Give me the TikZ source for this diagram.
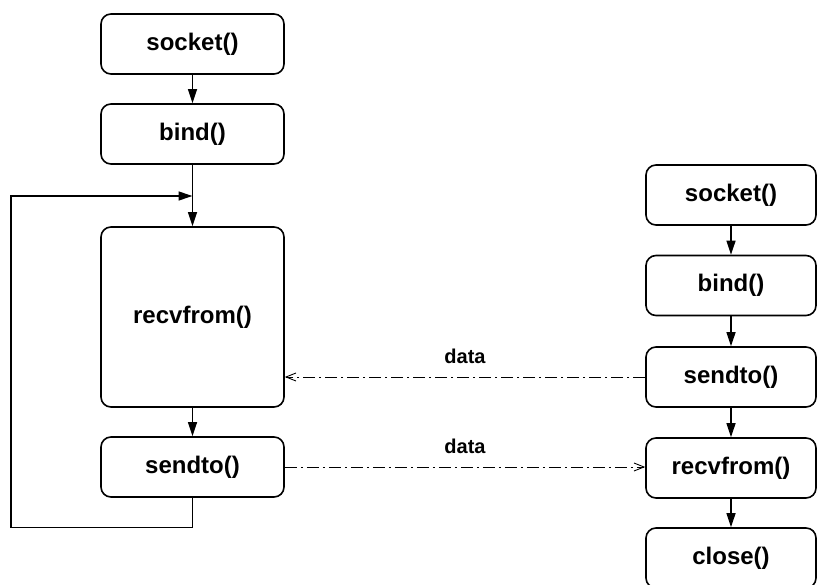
\documentclass[tikz,border=0pt]{standalone}
\usepackage{fontspec}
\setmainfont{Liberation Sans}
\usetikzlibrary{arrows.meta}

\tikzset{
  call/.style={draw, line width=1.6pt, rounded corners=10pt, minimum width=183pt,
    minimum height=60pt, font=\fontsize{24}{28}\selectfont\bfseries},
  rcall/.style={call, minimum width=170pt},
  flow/.style={line width=1.3pt, -{Triangle[length=14pt,width=9pt]}},
  msg/.style={line width=0.9pt, dash pattern=on 12pt off 4pt on 2pt off 4pt,
    -{Straight Barb[length=10pt,width=8pt]}},
  msglabel/.style={font=\fontsize{20}{24}\selectfont\bfseries}
}

\begin{document}
\begin{tikzpicture}[x=1pt,y=-1pt]
    \useasboundingbox (0,0) rectangle (818,585);

    % Server side
    \node[call] (lsock) at (192.5,44) {socket()};
    \node[call] (lbind) at (192.5,134) {bind()};
    \node[call, minimum height=180pt] (lrecv) at (192.5,317) {recvfrom()};
    \node[call] (lsend) at (192.5,467) {sendto()};

    % Client side
    \node[rcall] (rsock) at (731,195) {socket()};
    \node[rcall] (rbind) at (731,285.5) {bind()};
    \node[rcall] (rsend) at (731,377) {sendto()};
    \node[rcall] (rrecv) at (731,468) {recvfrom()};
    \node[rcall] (rclose) at (731,558) {close()};

    % Server flow
    \draw[flow] (lsock) -- (lbind);
    \draw[flow] (lbind) -- (lrecv);
    \draw[flow] (lrecv) -- (lsend);
    \coordinate (loopin) at (192.5,196);
    \draw[flow] (lsend.south) -- ++(0,30) -| (11,196) -- (loopin);

    % Client flow
    \draw[flow] (rsock) -- (rbind);
    \draw[flow] (rbind) -- (rsend);
    \draw[flow] (rsend) -- (rrecv);
    \draw[flow] (rrecv) -- (rclose);

    % Datagrams
    \draw[msg] (rsend.west) -- (rsend.west -| lrecv.east)
        node[msglabel, midway, above=10pt] {data};
    \draw[msg] (lsend.east) -- (lsend.east -| rrecv.west)
        node[msglabel, midway, above=10pt] {data};
\end{tikzpicture}
\end{document}
